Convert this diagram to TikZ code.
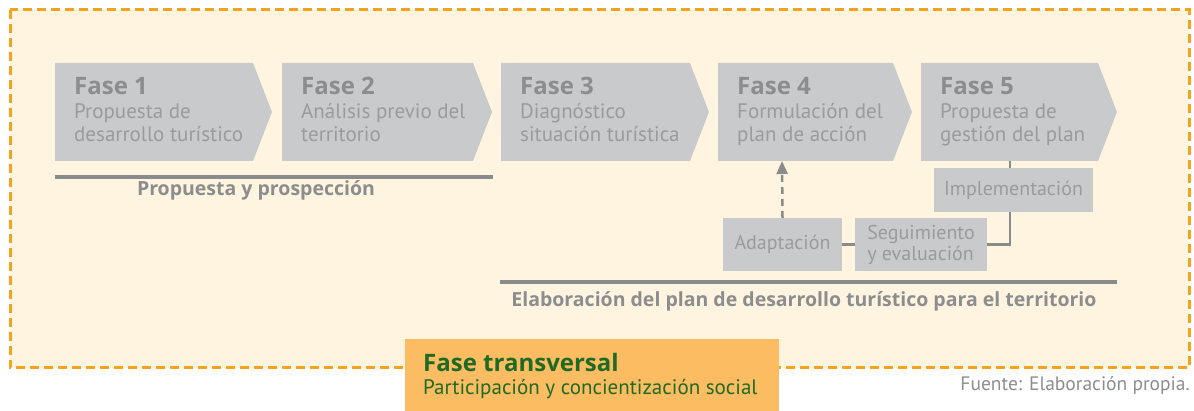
\documentclass[tikz,border=0pt]{standalone}
\usepackage{fontspec}
\setmainfont{PT Sans}
\newfontfamily\headfont{Open Sans}
\usetikzlibrary{arrows.meta}
\definecolor{cream}{HTML}{FEF4E0}
\definecolor{dashorange}{HTML}{F6A21C}
\definecolor{boxorange}{HTML}{FBBC62}
\definecolor{chevgray}{HTML}{C9CACC}
\definecolor{txtgray}{HTML}{8C8D8F}
\definecolor{lightgray}{HTML}{9A9B9D}
\definecolor{bargray}{HTML}{8A8B8D}
\definecolor{darkgreen}{HTML}{1F6A25}

\begin{document}
\begin{tikzpicture}[x=1pt, y=-1pt,
  chev/.style={fill=chevgray},
  phasetitle/.style={anchor=base west, inner sep=0pt, text=txtgray,
    font=\fontsize{24}{26}\headfont\bfseries},
  phasetext/.style={anchor=base west, inner sep=0pt, text=lightgray, align=left,
    font=\fontsize{21}{23.5}\selectfont},
  subbox/.style={fill=chevgray, text=lightgray, inner sep=0pt,
    font=\fontsize{20}{22}\selectfont},
  bar/.style={draw=bargray, line width=4pt},
  barlabel/.style={anchor=base, inner sep=0pt, text=txtgray,
    font=\fontsize{19.5}{21}\headfont\bfseries},
  link/.style={draw=bargray, line width=2.5pt}]
  \useasboundingbox (0,0) rectangle (1194,411);
  % marco punteado
  \filldraw[fill=cream, draw=dashorange, line width=3pt,
    dash pattern=on 9pt off 5pt] (10,10) rectangle (1189,368);
  % fases
  \foreach \xa/\xb/\n/\ti/\la/\lb in {
      55/253/f1/Fase 1/Propuesta de/desarrollo turístico,
      282/473/f2/Fase 2/Análisis previo del/territorio,
      501/690/f3/Fase 3/Diagnóstico/situación turística,
      718/893/f4/Fase 4/Formulación del/plan de acción,
      921/1098/f5/Fase 5/Propuesta de/gestión del plan}
  {
    \fill[chev] (\xa,63) -- (\xb,63) -- (\xb+19,112) -- (\xb,161)
      -- (\xa,161) -- cycle;
    \node[phasetitle] (\n) at (\xa+19,95) {\ti};
    \node[phasetext] (\n-txt) at (\xa+19,142) {\la\\\lb};
  }
  \coordinate (f4-s) at (782,161);
  \coordinate (f5-s) at (1010,161);
  % barras
  \coordinate (b1a) at (55,177);
  \coordinate (b1b) at (493,177);
  \coordinate (b2a) at (500,282);
  \coordinate (b2b) at (1117,282);
  \draw[bar] (b1a) -- (b1b);
  \draw[bar] (b2a) -- (b2b);
  \node[barlabel] (lab1) at (256,196) {Propuesta y prospección};
  \node[barlabel] (lab2) at (804,307)
    {Elaboración del plan de desarrollo turístico para el territorio};
  % ciclo de gestion
  \node[subbox, minimum width=159pt, minimum height=44pt] (impl)
    at (1013.5,190) {Implementación};
  \node[subbox, minimum width=119pt, minimum height=53pt] (adap)
    at (782.5,244.5) {Adaptación};
  \node[subbox, minimum width=132pt, minimum height=53pt, align=left,
    font=\fontsize{20}{21}\selectfont] (seg)
    at (921,244.5) {Seguimiento\\y evaluación};
  \draw[link] (f5-s) -- (f5-s |- impl.north);
  \draw[link] (adap.east) -- (seg.west);
  \draw[link] (seg.east) -| (impl.south -| f5-s);
  \draw[link, dashed, dash pattern=on 7pt off 5pt,
    -{Triangle[length=13pt, width=11pt]}] (adap.north) -- (f4-s);
  % fase transversal
  \node[fill=boxorange, anchor=north west, minimum width=374pt,
    minimum height=72pt, inner sep=0pt] (trans) at (405,339) {};
  \node[anchor=base west, inner sep=0pt, text=darkgreen,
    font=\fontsize{24}{27}\headfont\bfseries] (transt) at (423,372)
    {Fase transversal};
  \node[anchor=base west, inner sep=0pt, text=darkgreen,
    font=\fontsize{21}{23}\selectfont] (transs) at (423,395)
    {Participación y concientización social};
  \node[anchor=base east, inner sep=0pt, text=txtgray,
    font=\fontsize{19.5}{21}\selectfont] (fuente) at (1190,391)
    {Fuente: Elaboración propia.};
\end{tikzpicture}
\end{document}
